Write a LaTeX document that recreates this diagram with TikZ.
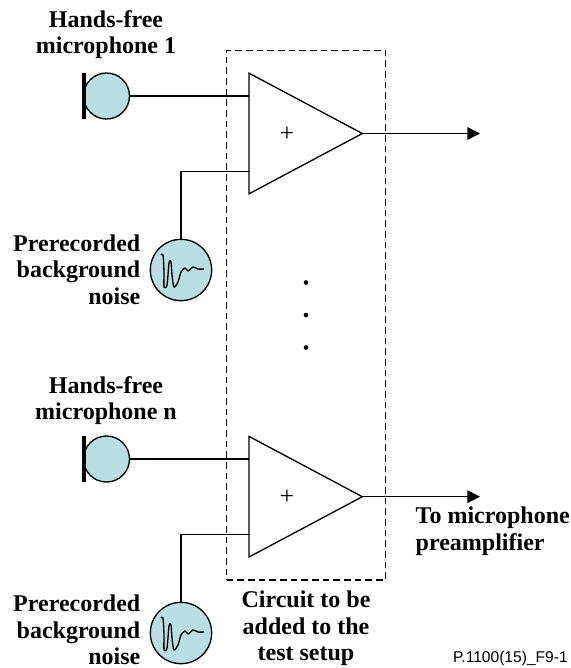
\documentclass[tikz,border=0pt]{standalone}
\usepackage{fontspec}
\setmainfont{Liberation Serif}
\newfontfamily\figfont{Liberation Sans}
\usepackage{tikz}
\usetikzlibrary{arrows.meta,shapes.geometric}
\definecolor{micblue}{HTML}{B9DFE3}
\tikzset{
  micbody/.style={circle, draw, fill=micblue, line width=1pt, minimum size=34.5pt, inner sep=0pt},
  micbar/.style={rectangle, fill=black, minimum width=3pt, minimum height=34pt, inner sep=0pt},
  noisebody/.style={circle, draw, fill=micblue, line width=1pt, minimum size=46pt, inner sep=0pt},
  ampbox/.style={isosceles triangle, isosceles triangle stretches, draw, line width=1pt, minimum width=90.5pt, minimum height=85pt, inner sep=0pt, outer sep=0pt, anchor=lower side},
  wire/.style={line width=1pt},
  label/.style={font=\fontsize{18}{20}\selectfont\bfseries, align=center, inner ysep=0pt},
  dot/.style={circle, fill=black, minimum size=3.5pt, inner sep=0pt},
  wave/.style={line width=1pt, line join=round}
}
\begin{document}
\begin{tikzpicture}[x=0.75pt, y=-0.75pt]
  \useasboundingbox (0,0) rectangle (571,668);
  % Nodes
  \node (box) [rectangle, draw, dash pattern=on 5pt off 3pt, line width=0.9pt, minimum width=119.25pt, minimum height=397pt, inner sep=0pt] at (306,315.25) {};
  \node (amp-1) [ampbox] at (249,133.5) {};
  \node (amp-n) [ampbox] at (249,496.7) {};
  \node (plus-1) at (287,134) {\fontsize{19}{19}\selectfont +};
  \node (plus-n) at (287,497) {\fontsize{19}{19}\selectfont +};
  \node (mic-1) [micbody] at (106.5,96) {};
  \node (bar-1) [micbar] at (83.5,96) {};
  \node (mic-n) [micbody] at (106.5,459) {};
  \node (bar-n) [micbar] at (83.5,459) {};
  \node (noise-1) [noisebody] at (181,270) {};
  \node (noise-n) [noisebody] at (181,633) {};
  \node (dot-a) [dot] at (306,282.5) {};
  \node (dot-b) [dot] at (306,315) {};
  \node (dot-c) [dot] at (306,347.5) {};
  % Labels
  \node (mic-1-text) [label] at (106,34.5) {Hands-free\\microphone 1};
  \node (mic-n-text) [label] at (106,400.5) {Hands-free\\microphone n};
  \node (noise-1-text) [label, align=right, anchor=east] at (145,269.5) {Prerecorded\\background\\noise};
  \node (noise-n-text) [label, align=right, anchor=east] at (145,630) {Prerecorded\\background\\noise};
  \node (out-text) [label, align=left, anchor=west] at (411,531.5) {To microphone\\preamplifier};
  \node (box-text) [label] at (306,628.5) {Circuit to be\\added to the\\test setup};
  \node (code) [font=\figfont\fontsize{11.7}{13}\selectfont, anchor=east] at (572.5,658) {P.1100(15)\_F9-1};
  % Waveforms
  \foreach \src in {noise-1, noise-n} {
    \draw[wave, shift={(\src.center)}] plot[smooth, tension=0.5] coordinates {(-20,-15) (-18,-15) (-17,2) (-17,17) (-14,15) (-12,-7) (-10,-8) (-9,5) (-7,17) (-3,12) (0,2) (4,-2) (7,1) (12,-3) (17,-1) (23,-1)};
  }
  % Arrow
  \coordinate (in-1) at (249,171.5);
  \coordinate (in-n) at (249,534.3);
  \coordinate (out-1) at (480,133.5);
  \coordinate (out-n) at (480,496.7);
  \draw[wire] (mic-1.east) -- (mic-1.east -| amp-1.lower side);
  \draw[wire] (mic-n.east) -- (mic-n.east -| amp-n.lower side);
  \draw[wire] (noise-1.north) |- (in-1);
  \draw[wire] (noise-n.north) |- (in-n);
  \draw[wire, -{Triangle[length=9.5pt,width=9.5pt]}] (amp-1.apex) -- (out-1);
  \draw[wire, -{Triangle[length=9.5pt,width=9.5pt]}] (amp-n.apex) -- (out-n);
\end{tikzpicture}
\end{document}
